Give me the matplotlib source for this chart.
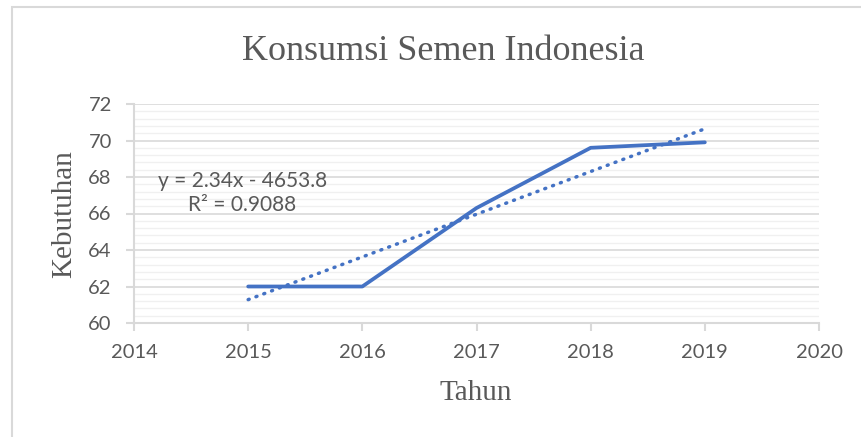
import matplotlib

matplotlib.use("Agg")
import matplotlib.pyplot as plt
import numpy as np
from matplotlib.patches import Rectangle
from matplotlib.ticker import MultipleLocator

years = [2015, 2016, 2017, 2018, 2019]
kebutuhan = [62.0, 62.0, 66.3, 69.6, 69.9]
equation_text = "y = 2.34x - 4653.8\nR² = 0.9088"

blue = "#4472C4"
text_gray = "#595959"
grid_gray = "#d9d9d9"

W, H = 862, 437
fig = plt.figure(figsize=(W / 100, H / 100), dpi=100)
fig.patches.append(Rectangle((12 / W, -0.02), 1.0, 1 - 7 / H + 0.02,
                             transform=fig.transFigure, fill=False,
                             edgecolor=grid_gray, linewidth=1.5))
ax = fig.add_axes([134 / W, 1 - 323 / H, (819 - 134) / W, (323 - 104) / H])

ax.plot(years, kebutuhan, color=blue, linewidth=2.7, solid_capstyle="round",
        solid_joinstyle="round", zorder=3)

# linear trendline as in the Excel chart
coef = np.polyfit(years, kebutuhan, 1)
xs = np.array([years[0], years[-1]], dtype=float)
ax.plot(xs, np.polyval(coef, xs), color=blue, linewidth=2.5, linestyle=(0, (0.3, 2.1)),
        dash_capstyle="round", zorder=3)

ax.set_xlim(2014, 2020)
ax.set_ylim(60, 72)
ax.xaxis.set_major_locator(MultipleLocator(1))
ax.yaxis.set_major_locator(MultipleLocator(2))
ax.yaxis.set_minor_locator(MultipleLocator(0.4))
ax.grid(True, which="major", axis="y", color=grid_gray, linewidth=1.2, zorder=0)
ax.grid(True, which="minor", axis="y", color="#f0f0f0", linewidth=1.0, zorder=0)
ax.set_axisbelow(True)

for side in ["top", "right"]:
    ax.spines[side].set_visible(False)
for side in ["left", "bottom"]:
    ax.spines[side].set_color(grid_gray)
    ax.spines[side].set_linewidth(1.5)

ax.tick_params(axis="both", which="major", colors=grid_gray, length=6, width=1.5,
               labelcolor=text_gray, labelsize=14.5)
ax.tick_params(axis="x", pad=9)
ax.tick_params(axis="y", pad=10)
ax.tick_params(axis="y", which="minor", length=0)
for lab in ax.get_xticklabels() + ax.get_yticklabels():
    lab.set_family("Lato")

ax.text(2014.947, 67.15, equation_text, ha="center", va="center", fontsize=15,
        color=text_gray, family="Lato", linespacing=1.25)

fig.suptitle("Konsumsi Semen Indonesia", x=443 / W, y=1 - 52 / H, va="center",
             family="Liberation Serif", fontsize=26, color=text_gray)
ax.set_xlabel("Tahun", family="Liberation Serif", fontsize=21, color=text_gray)
ax.set_ylabel("Kebutuhan", family="Liberation Serif", fontsize=21, color=text_gray)
ax.xaxis.label.set_va("center")
ax.yaxis.label.set_va("center")
ax.xaxis.set_label_coords((476 - 134) / (819 - 134), (323 - 393) / (323 - 104))
ax.yaxis.set_label_coords((64 - 134) / (819 - 134), (323 - 214) / (323 - 104))

fig.savefig("out.png", dpi=100)
